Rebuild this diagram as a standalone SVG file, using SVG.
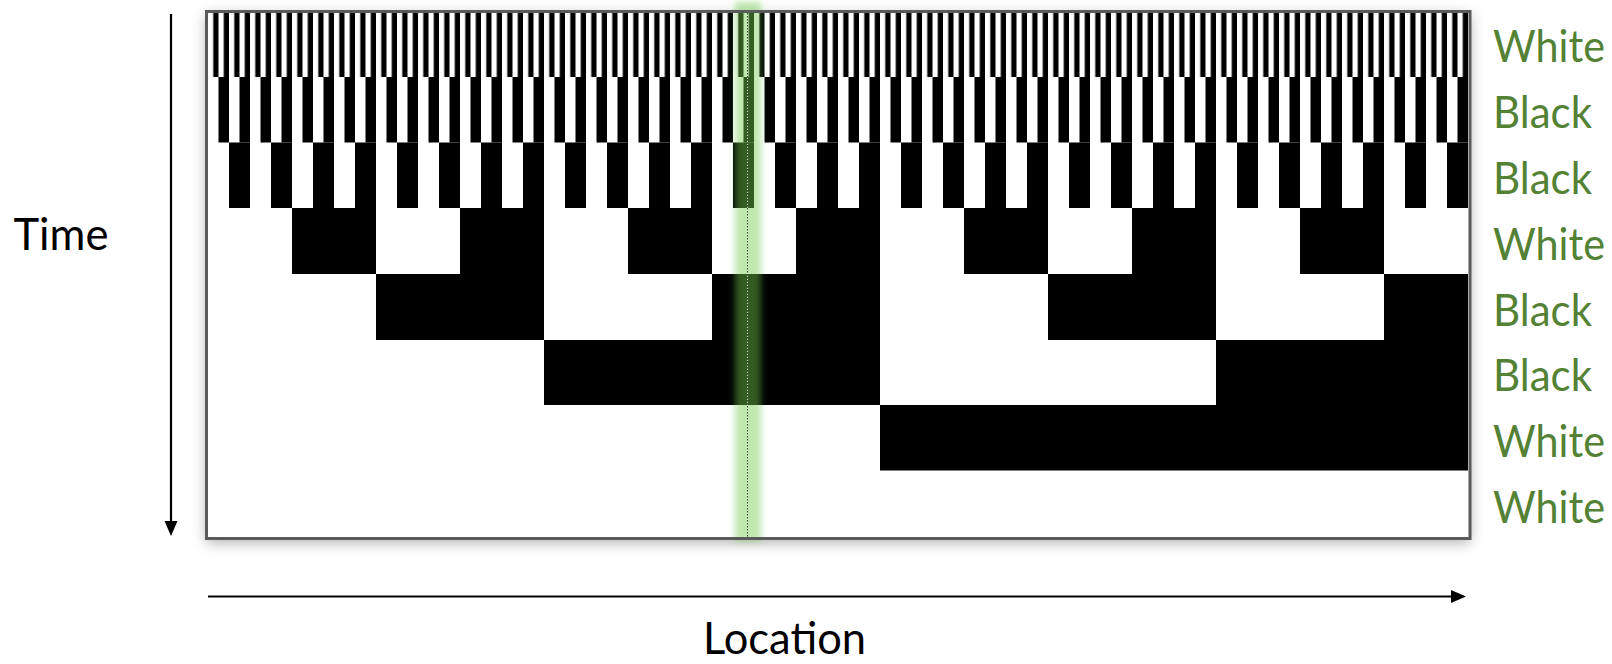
<svg xmlns="http://www.w3.org/2000/svg" width="1612" height="664" viewBox="0 0 1612 664">
<style>
.lbl{font-family:Lato,"Liberation Sans",sans-serif;font-size:44px;fill:#548235}
.axt{font-family:Lato,"Liberation Sans",sans-serif;font-size:44px;fill:#000}
.blk{fill:#000}
.ax{stroke:#000;stroke-width:2.2;fill:none}
</style>
<defs>
<filter id="shadow" x="-5%" y="-10%" width="110%" height="125%">
<feDropShadow dx="0" dy="4" stdDeviation="7" flood-color="#000" flood-opacity="0.32"/>
</filter>
<filter id="glow" x="-100%" y="-5%" width="300%" height="110%">
<feGaussianBlur stdDeviation="3"/>
</filter>
<pattern id="p1" patternUnits="userSpaceOnUse" x="208" y="0" width="10.5" height="664"><rect x="5.25" y="0" width="5.25" height="664" fill="#000"/></pattern>
<pattern id="p2" patternUnits="userSpaceOnUse" x="208" y="0" width="21" height="664"><rect x="10.5" y="0" width="10.5" height="664" fill="#000"/></pattern>
<pattern id="p3" patternUnits="userSpaceOnUse" x="208" y="0" width="42" height="664"><rect x="21" y="0" width="21" height="664" fill="#000"/></pattern>
<marker id="arr" markerUnits="userSpaceOnUse" markerWidth="16" markerHeight="14" refX="8" refY="6.5" orient="auto"><path d="M0,0 L15,6.5 L0,13 z" fill="#000"/></marker>
</defs>

<g id="panel">
<rect x="206.5" y="11.5" width="1263.5" height="527" fill="#fff" filter="url(#shadow)"/>
<g id="grid">
<rect x="208" y="13" width="1260" height="64" fill="url(#p1)"/>
<rect x="208" y="77" width="1260" height="65.5" fill="url(#p2)"/>
<rect x="208" y="142.5" width="1260" height="65.5" fill="url(#p3)"/>
<g id="row4" class="blk">
<rect x="292" y="208" width="84" height="66"/>
<rect x="460" y="208" width="84" height="66"/>
<rect x="628" y="208" width="84" height="66"/>
<rect x="796" y="208" width="84" height="66"/>
<rect x="964" y="208" width="84" height="66"/>
<rect x="1132" y="208" width="84" height="66"/>
<rect x="1300" y="208" width="84" height="66"/>
</g>
<g id="row5" class="blk">
<rect x="376" y="274" width="168" height="66"/>
<rect x="712" y="274" width="168" height="66"/>
<rect x="1048" y="274" width="168" height="66"/>
<rect x="1384" y="274" width="84" height="66"/>
</g>
<g id="row6" class="blk">
<rect x="544" y="340" width="336" height="65"/>
<rect x="1216" y="340" width="252" height="65"/>
</g>
<g id="row7" class="blk">
<rect x="880" y="405" width="588" height="65.5"/>
</g>
</g>
<g id="highlight">
<rect x="735" y="2" width="26" height="539" fill="rgb(114,205,73)" fill-opacity="0.45" filter="url(#glow)"/>
<line x1="747.5" y1="13" x2="747.5" y2="537" stroke="#fff" stroke-opacity="0.75" stroke-width="1" stroke-dasharray="1.5 1.5" stroke-dashoffset="1.5"/>
<line x1="747.5" y1="13" x2="747.5" y2="537" stroke="#2f4f23" stroke-width="1" stroke-dasharray="1.5 1.5"/>
</g>
<rect id="frame" x="206.5" y="11.5" width="1263.5" height="527" fill="none" stroke="#5a5a5a" stroke-width="3"/>
</g>

<g id="connectors">
<line id="time-axis" class="ax" x1="171" y1="14" x2="171" y2="529" marker-end="url(#arr)"/>
<line id="location-axis" class="ax" x1="208" y1="596.5" x2="1459" y2="596.5" marker-end="url(#arr)"/>
</g>

<g id="axis-labels">
<text id="time-label" class="axt" x="13.5" y="250" textLength="95" lengthAdjust="spacingAndGlyphs">Time</text>
<text id="location-label" class="axt" x="703" y="654" textLength="163" lengthAdjust="spacingAndGlyphs">Location</text>
</g>

<g id="row-labels">
<text class="lbl" x="1493" y="61.7" textLength="112" lengthAdjust="spacingAndGlyphs">White</text>
<text class="lbl" x="1493" y="127.6" textLength="99" lengthAdjust="spacingAndGlyphs">Black</text>
<text class="lbl" x="1493" y="193.6" textLength="99" lengthAdjust="spacingAndGlyphs">Black</text>
<text class="lbl" x="1493" y="259.5" textLength="112" lengthAdjust="spacingAndGlyphs">White</text>
<text class="lbl" x="1493" y="325.5" textLength="99" lengthAdjust="spacingAndGlyphs">Black</text>
<text class="lbl" x="1493" y="391.4" textLength="99" lengthAdjust="spacingAndGlyphs">Black</text>
<text class="lbl" x="1493" y="457.4" textLength="112" lengthAdjust="spacingAndGlyphs">White</text>
<text class="lbl" x="1493" y="523.3" textLength="112" lengthAdjust="spacingAndGlyphs">White</text>
</g>
</svg>
